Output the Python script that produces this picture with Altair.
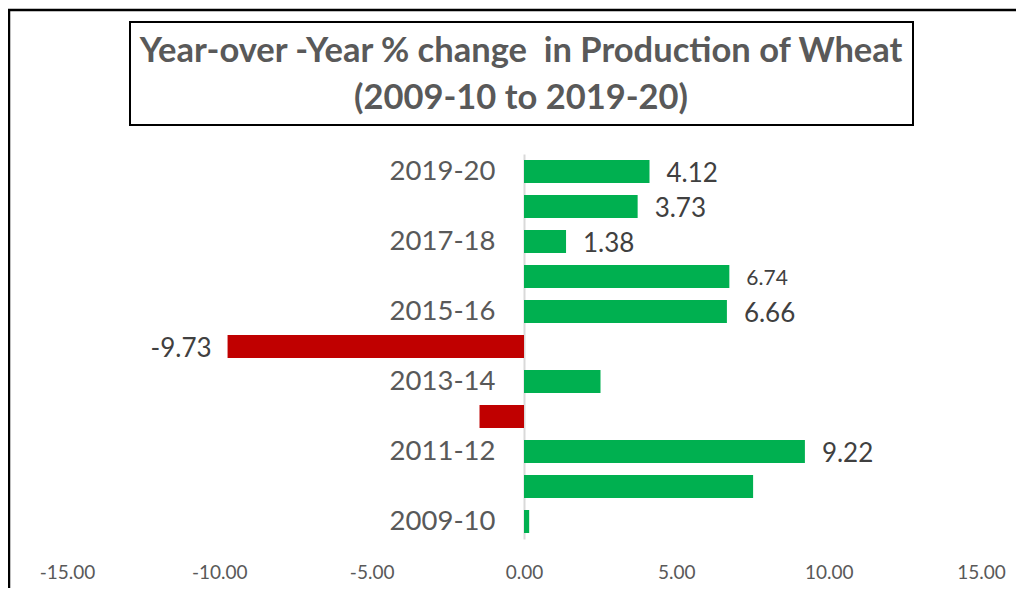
import altair as alt
import pandas as pd

years = ["2009-10", "2010-11", "2011-12", "2012-13", "2013-14", "2014-15",
         "2015-16", "2016-17", "2017-18", "2018-19", "2019-20"]
changes = [0.17, 7.52, 9.22, -1.46, 2.51, -9.73, 6.66, 6.74, 1.38, 3.73, 4.12]
data_labels = ["", "", "9.22", "", "", "-9.73", "6.66", "6.74", "1.38", "3.73", "4.12"]
year_ticks = ["2019-20", "2017-18", "2015-16", "2013-14", "2011-12", "2009-10"]
x_ticks = [-15, -10, -5, 0, 5, 10, 15]
title_lines = ["Year-over -Year % change \u00a0in Production of Wheat", "(2009-10 to 2019-20)"]

df = pd.DataFrame({"year": years, "change": changes, "label": data_labels})

W, H = 914, 385
x_min, x_max = -15, 15
zero_px = (0 - x_min) / (x_max - x_min) * W

x_scale = alt.Scale(domain=[x_min, x_max], nice=False, zero=False)
y_scale = alt.Scale(domain=years[::-1], paddingInner=12 / 35, paddingOuter=6 / 35)

base = alt.Chart(df)

x_enc = alt.X("change:Q", scale=x_scale,
              axis=alt.Axis(values=x_ticks, domain=False, ticks=False, grid=False,
                            labelExpr="replace(format(datum.value, '.2f'), '\u2212', '-')",
                            labelFlush=False, labelOverlap=False,
                            labelFontSize=19, labelColor="#595959", labelFont="Lato",
                            labelPadding=24, title=None))
y_enc = alt.Y("year:N", scale=y_scale, sort=None,
              axis=alt.Axis(values=year_ticks, orient="left", offset=-zero_px,
                            domainColor="#d9d9d9", domainWidth=2, ticks=False,
                            labelPadding=29, labelFontSize=27.5, labelColor="#595959",
                            labelFont="Lato", title=None, grid=False))

bars = base.mark_bar().encode(
    x=x_enc,
    x2=alt.datum(0),
    y=y_enc,
    color=alt.condition("datum.change < 0", alt.value("#c00000"), alt.value("#00b050")),
)

size_enc = alt.condition("datum.year == '2016-17'", alt.value(21), alt.value(26))

pos_text = base.transform_filter("datum.label != '' && datum.change > 0").mark_text(
    align="left", baseline="middle", dx=17, dy=2, font="Lato", color="#404040"
).encode(x="change:Q", y=alt.Y("year:N", sort=None), text="label:N", size=size_enc)

neg_text = base.transform_filter("datum.label != '' && datum.change < 0").mark_text(
    align="right", baseline="middle", dx=-16, dy=2, font="Lato", color="#404040"
).encode(x="change:Q", y=alt.Y("year:N", sort=None), text="label:N", size=size_enc)

one = alt.Data(values=[{"k": 1}])
frame_left = alt.Chart(one).mark_rule(color="black", strokeWidth=2.5).encode(
    x=alt.value(-58), y=alt.value(-145), y2=alt.value(434))
frame_top = alt.Chart(one).mark_rule(color="black", strokeWidth=2.5).encode(
    x=alt.value(-59.2), x2=alt.value(949), y=alt.value(-144))
title_box = alt.Chart(one).mark_rect(fillOpacity=0, stroke="black", strokeWidth=2).encode(
    x=alt.value(63), x2=alt.value(846), y=alt.value(-132), y2=alt.value(-29))
title_text = alt.Chart(one).mark_text(
    text=title_lines, font="Lato", fontWeight="bold", fontSize=34.5, color="#595959",
    align="center", baseline="alphabetic", lineHeight=47
).encode(x=alt.value(454), y=alt.value(-92))

chart = alt.layer(frame_left, frame_top, title_box, title_text, bars, pos_text, neg_text).properties(
    width=W, height=H,
    padding={"left": 59, "top": 146, "right": 35, "bottom": 49},
    autosize="none",
).configure_view(stroke=None)

chart.save("out.html", embed_options={"renderer": "svg", "actions": False})
